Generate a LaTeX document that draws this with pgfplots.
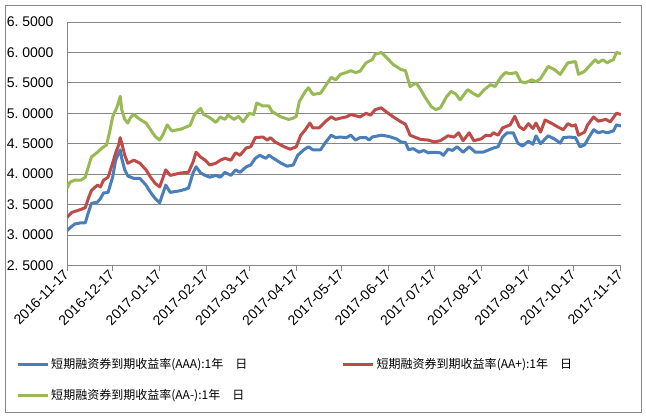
\documentclass[border=0pt]{standalone}
\usepackage{fontspec}
\usepackage{pgfplots}
\pgfplotsset{compat=1.18}
\setmainfont{Liberation Sans}
\newfontfamily\cjk{Noto Sans CJK SC}
\definecolor{sblue}{HTML}{4A7EBB}
\definecolor{sred}{HTML}{BE4B48}
\definecolor{sgreen}{HTML}{98B954}
\definecolor{gridgray}{HTML}{868686}
\begin{document}
\begin{tikzpicture}
\begin{axis}[
  width=553pt, height=243pt, scale only axis,
  xmin=0, xmax=365, ymin=2.5, ymax=6.5,
  xtick={0,30,61,92,120,151,181,212,242,273,304,334,365},
  xticklabels={2016-11-17,2016-12-17,2017-01-17,2017-02-17,2017-03-17,2017-04-17,2017-05-17,2017-06-17,2017-07-17,2017-08-17,2017-09-17,2017-10-17,2017-11-17},
  ytick={2.5,3,3.5,4,4.5,5,5.5,6,6.5},
  yticklabels={2.\ 5000,3.\ 0000,3.\ 5000,4.\ 0000,4.\ 5000,5.\ 0000,5.\ 5000,6.\ 0000,6.\ 5000},
  axis x line*=bottom, axis y line*=left,
  axis line style={gridgray, line width=1pt, -},
  ymajorgrids, grid style={gridgray, line width=0.8pt},
  tick align=outside, major tick length=6pt,
  xtick style={gridgray, line width=1pt},
  ytick style={draw=none},
  xticklabel style={rotate=45, anchor=east, font=\fontsize{14}{14}\selectfont, inner sep=1pt},
  yticklabel style={font=\fontsize{14}{14}\selectfont, xshift=-4pt},
  legend style={at={(-0.0977,-0.3665)}, anchor=north west, draw=none, fill=none,
    font=\cjk\fontsize{12}{14}\selectfont, row sep=15pt,
    /tikz/every even column/.append style={column sep=92pt}},
  legend columns=2, legend cell align=left,
  legend image code/.code={\draw[#1, line width=3pt] (0pt,0pt) -- (30pt,0pt);},
  every axis plot/.append style={line width=3pt, line join=round, no markers},
]
\addplot[sblue] coordinates {(0,3.07)(2,3.12)(5,3.18)(9,3.2)(12,3.2)(14,3.37)(16,3.52)(20,3.54)(22,3.6)(24,3.69)(27,3.7)(30,3.95)(32,4.23)(35,4.4)(36,4.26)(38,4.07)(40,3.97)(44,3.93)(48,3.93)(52,3.82)(55,3.7)(58,3.6)(61,3.53)(65,3.82)(68,3.7)(75,3.73)(80,3.77)(83,4.02)(85,4.12)(88,4.02)(91,3.98)(94,3.95)(98,3.98)(101,3.95)(104,4.03)(108,3.98)(111,4.07)(114,4.03)(118,4.12)(121,4.15)(124,4.26)(127,4.31)(131,4.26)(133,4.31)(136,4.26)(141,4.18)(145,4.13)(149,4.15)(152,4.31)(156,4.4)(159,4.45)(162,4.4)(167,4.4)(170,4.51)(174,4.64)(177,4.6)(180,4.61)(184,4.6)(187,4.64)(190,4.56)(193,4.6)(197,4.6)(199,4.56)(201,4.61)(207,4.64)(212,4.62)(217,4.58)(220,4.53)(223,4.52)(225,4.4)(228,4.42)(232,4.36)(235,4.39)(238,4.35)(242,4.36)(246,4.35)(248,4.31)(251,4.41)(254,4.39)(257,4.45)(261,4.36)(265,4.45)(269,4.36)(274,4.36)(277,4.39)(281,4.43)(284,4.45)(287,4.61)(290,4.68)(294,4.68)(297,4.51)(300,4.46)(304,4.54)(307,4.49)(309,4.63)(312,4.5)(317,4.63)(321,4.58)(325,4.51)(327,4.6)(331,4.61)(335,4.6)(338,4.45)(341,4.48)(344,4.61)(347,4.73)(350,4.68)(353,4.7)(356,4.68)(360,4.71)(362,4.81)(365,4.79)};
\addlegendentry{短期融资券到期收益率(AAA):1年\quad 日}
\addplot[sred] coordinates {(0,3.29)(3,3.37)(9,3.42)(12,3.45)(14,3.6)(16,3.73)(20,3.82)(22,3.79)(24,3.9)(27,3.95)(30,4.18)(32,4.35)(34,4.48)(35,4.6)(36,4.51)(38,4.31)(40,4.18)(44,4.23)(48,4.18)(52,4.07)(55,3.95)(58,3.85)(61,3.79)(65,4.07)(68,3.98)(75,4.02)(80,4.03)(83,4.2)(85,4.36)(88,4.28)(91,4.23)(94,4.15)(98,4.18)(101,4.23)(104,4.26)(108,4.23)(111,4.35)(114,4.31)(118,4.43)(121,4.45)(124,4.6)(129,4.61)(132,4.56)(134,4.6)(137,4.53)(143,4.45)(147,4.41)(151,4.45)(154,4.64)(157,4.73)(160,4.84)(162,4.76)(166,4.76)(170,4.86)(174,4.94)(177,4.9)(180,4.92)(184,4.94)(187,4.98)(190,4.96)(193,4.94)(197,5.0)(200,4.97)(203,5.06)(207,5.09)(210,5.03)(215,4.94)(220,4.86)(223,4.82)(226,4.64)(230,4.6)(233,4.57)(238,4.56)(242,4.53)(246,4.55)(251,4.63)(255,4.61)(258,4.68)(261,4.55)(265,4.68)(268,4.55)(273,4.58)(276,4.64)(279,4.63)(281,4.68)(284,4.64)(287,4.76)(290,4.79)(292,4.81)(295,4.95)(298,4.78)(301,4.73)(304,4.83)(307,4.75)(309,4.84)(312,4.69)(315,4.89)(319,4.84)(323,4.78)(327,4.73)(330,4.83)(333,4.79)(335,4.81)(337,4.64)(341,4.69)(343,4.81)(347,4.94)(350,4.87)(355,4.9)(358,4.86)(362,5.0)(365,4.98)};
\addlegendentry{短期融资券到期收益率(AA+):1年\quad 日}
\addplot[sgreen] coordinates {(0,3.77)(2,3.87)(5,3.9)(9,3.9)(12,3.95)(14,4.12)(16,4.28)(20,4.36)(23,4.43)(26,4.48)(28,4.69)(30,4.94)(33,5.11)(35,5.28)(36,5.06)(38,4.9)(40,4.84)(42,4.94)(44,4.98)(48,4.9)(52,4.84)(55,4.73)(58,4.62)(61,4.56)(63,4.64)(66,4.81)(69,4.71)(75,4.74)(81,4.8)(84,4.98)(88,5.08)(90,4.98)(94,4.93)(98,4.85)(101,4.94)(104,4.9)(106,4.97)(110,4.9)(113,4.95)(116,4.86)(120,5.0)(123,4.98)(125,5.17)(129,5.12)(133,5.12)(135,5.03)(141,4.94)(146,4.9)(149,4.92)(151,4.95)(153,5.19)(157,5.36)(159,5.42)(162,5.31)(167,5.33)(170,5.44)(174,5.59)(177,5.55)(180,5.64)(184,5.67)(187,5.7)(190,5.67)(193,5.69)(197,5.83)(201,5.88)(203,5.97)(207,6.0)(210,5.93)(215,5.8)(220,5.72)(223,5.7)(226,5.44)(230,5.5)(233,5.39)(236,5.26)(240,5.11)(243,5.06)(246,5.09)(250,5.27)(253,5.36)(256,5.32)(259,5.22)(264,5.39)(268,5.32)(271,5.28)(275,5.39)(279,5.47)(282,5.44)(286,5.6)(289,5.67)(292,5.65)(296,5.67)(299,5.52)(302,5.5)(306,5.55)(309,5.52)(312,5.57)(317,5.77)(321,5.72)(325,5.64)(327,5.72)(330,5.83)(335,5.85)(337,5.64)(341,5.69)(345,5.8)(348,5.88)(350,5.83)(353,5.88)(356,5.83)(358,5.86)(360,5.88)(362,6.0)(365,5.98)};
\addlegendentry{短期融资券到期收益率(AA-):1年\quad 日}
\end{axis}
\draw[gridgray, line width=1pt] ([xshift=-62pt,yshift=-147pt]current axis.south west) rectangle ([xshift=20pt,yshift=17pt]current axis.north east);
\path ([xshift=-67pt,yshift=-152pt]current axis.south west) rectangle ([xshift=25pt,yshift=22pt]current axis.north east);
\end{tikzpicture}
\end{document}
